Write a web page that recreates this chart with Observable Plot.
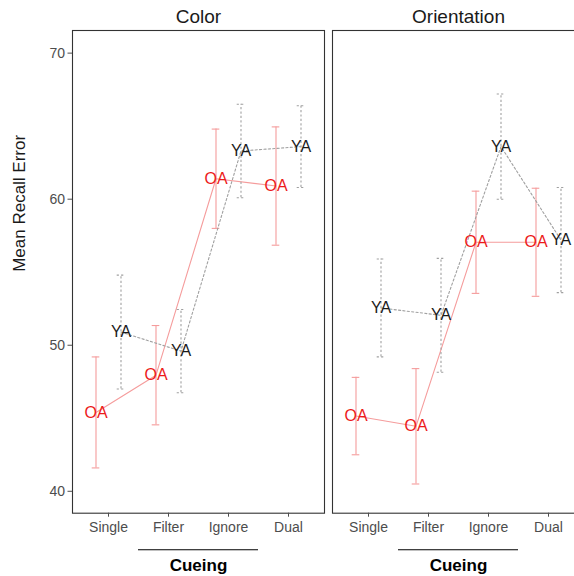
<!DOCTYPE html>
<html>
<head>
<meta charset="utf-8">
<script src="https://cdn.jsdelivr.net/npm/d3@7"></script>
<script src="https://cdn.jsdelivr.net/npm/@observablehq/plot@0.6"></script>
<style>
  html, body { margin: 0; padding: 0; background: #fff; }
  #chart { width: 574px; height: 576px; overflow: hidden; }
</style>
</head>
<body>
<div id="chart"></div>
<script>
// Cueing conditions and task panels
const conditions = ["Single", "Filter", "Ignore", "Dual"];
const panels = ["Color", "Orientation"];

// Older adults (OA): mean recall error and error-bar half-width per condition
const oaColorMean = [45.4, 47.95, 61.4, 60.9];
const oaColorErr = [3.8, 3.4, 3.4, 4.05];
const oaOrientMean = [45.15, 44.45, 57.05, 57.05];
const oaOrientErr = [2.65, 3.95, 3.5, 3.7];

// Younger adults (YA)
const yaColorMean = [50.9, 49.6, 63.3, 63.6];
const yaColorErr = [3.9, 2.85, 3.2, 2.8];
const yaOrientMean = [52.55, 52.05, 63.6, 57.2];
const yaOrientErr = [3.35, 3.9, 3.6, 3.6];

const yTicks = [40, 50, 60, 70];
const yDomain = [38.5, 71.55];

function rows(panel, group, means, errs) {
  return conditions.map((cond, i) => ({
    panel, group, cond,
    mean: means[i],
    lo: means[i] - errs[i],
    hi: means[i] + errs[i]
  }));
}

const oa = [...rows("Color", "OA", oaColorMean, oaColorErr),
            ...rows("Orientation", "OA", oaOrientMean, oaOrientErr)];
const ya = [...rows("Color", "YA", yaColorMean, yaColorErr),
            ...rows("Orientation", "YA", yaOrientMean, yaOrientErr)];

// error bars + connecting line for one age group, dodged horizontally
function seriesMarks(data, {dx, stroke, dash}) {
  const common = {fx: "panel", dx, stroke, strokeWidth: 1.1, strokeDasharray: dash};
  const cap = {...common, x1: "cond", x2: "cond", insetLeft: -3.8, insetRight: -3.8};
  return [
    Plot.ruleX(data, {...common, x: "cond", y1: "lo", y2: "hi"}),
    Plot.ruleY(data, {...cap, y: "lo"}),
    Plot.ruleY(data, {...cap, y: "hi"}),
    Plot.line(data, {...common, x: "cond", y: "mean"})
  ];
}

const oaStyle = {dx: -12.5, stroke: "#f59c9c", dash: null};
const yaStyle = {dx: 12.5, stroke: "#a0a0a0", dash: "2.2,2.2"};

const plot = Plot.plot({
  width: 590,
  height: 576,
  marginTop: 30,
  marginBottom: 63.3,
  marginLeft: 71,
  marginRight: 5.3,
  style: {
    fontFamily: "'Liberation Sans', Arial, sans-serif",
    background: "#fff",
    maxWidth: "none",
    overflow: "visible"
  },
  fx: {domain: panels, paddingInner: 0.03, paddingOuter: 0},
  x: {type: "point", domain: conditions, padding: 0.6},
  y: {domain: yDomain},
  marks: [
    Plot.frame({stroke: "#333333", strokeWidth: 1.1}),
    Plot.axisFx({anchor: "top", label: null, tickSize: 0, tickPadding: 8, fontSize: 19, color: "#1a1a1a"}),
    Plot.axisX({label: null, tickSize: 4, tickPadding: 5, fontSize: 14, color: "#4d4d4d"}),
    Plot.axisY({ticks: yTicks, label: null, tickSize: 4.5, tickPadding: 3, fontSize: 14, color: "#4d4d4d"}),
    Plot.text([{panel: "Color"}], {
      fx: "panel", text: () => "Mean Recall Error", frameAnchor: "left",
      rotate: -90, dx: -53, fontSize: 17, fill: "#1a1a1a"
    }),
    ...seriesMarks(oa, oaStyle),
    ...seriesMarks(ya, yaStyle),
    Plot.text(oa, {fx: "panel", x: "cond", y: "mean", dx: oaStyle.dx, text: "group", fill: "#ec1a1a", fontSize: 16}),
    Plot.text(ya, {fx: "panel", x: "cond", y: "mean", dx: yaStyle.dx, text: "group", fill: "#1a1a1a", fontSize: 16}),
    // x-axis title with an overline spanning the middle conditions
    Plot.ruleY(panels.map(p => ({panel: p})), {
      fx: "panel", y: () => yDomain[0], x1: () => "Filter", x2: () => "Ignore",
      insetLeft: -30, insetRight: -30, dy: 36.5, stroke: "#000", strokeWidth: 1.1
    }),
    Plot.text(panels.map(p => ({panel: p})), {
      fx: "panel", text: () => "Cueing", frameAnchor: "bottom", dy: 57.5,
      fontSize: 17, fontWeight: "bold", fill: "#000"
    })
  ]
});

document.getElementById("chart").appendChild(plot);
</script>
</body>
</html>
